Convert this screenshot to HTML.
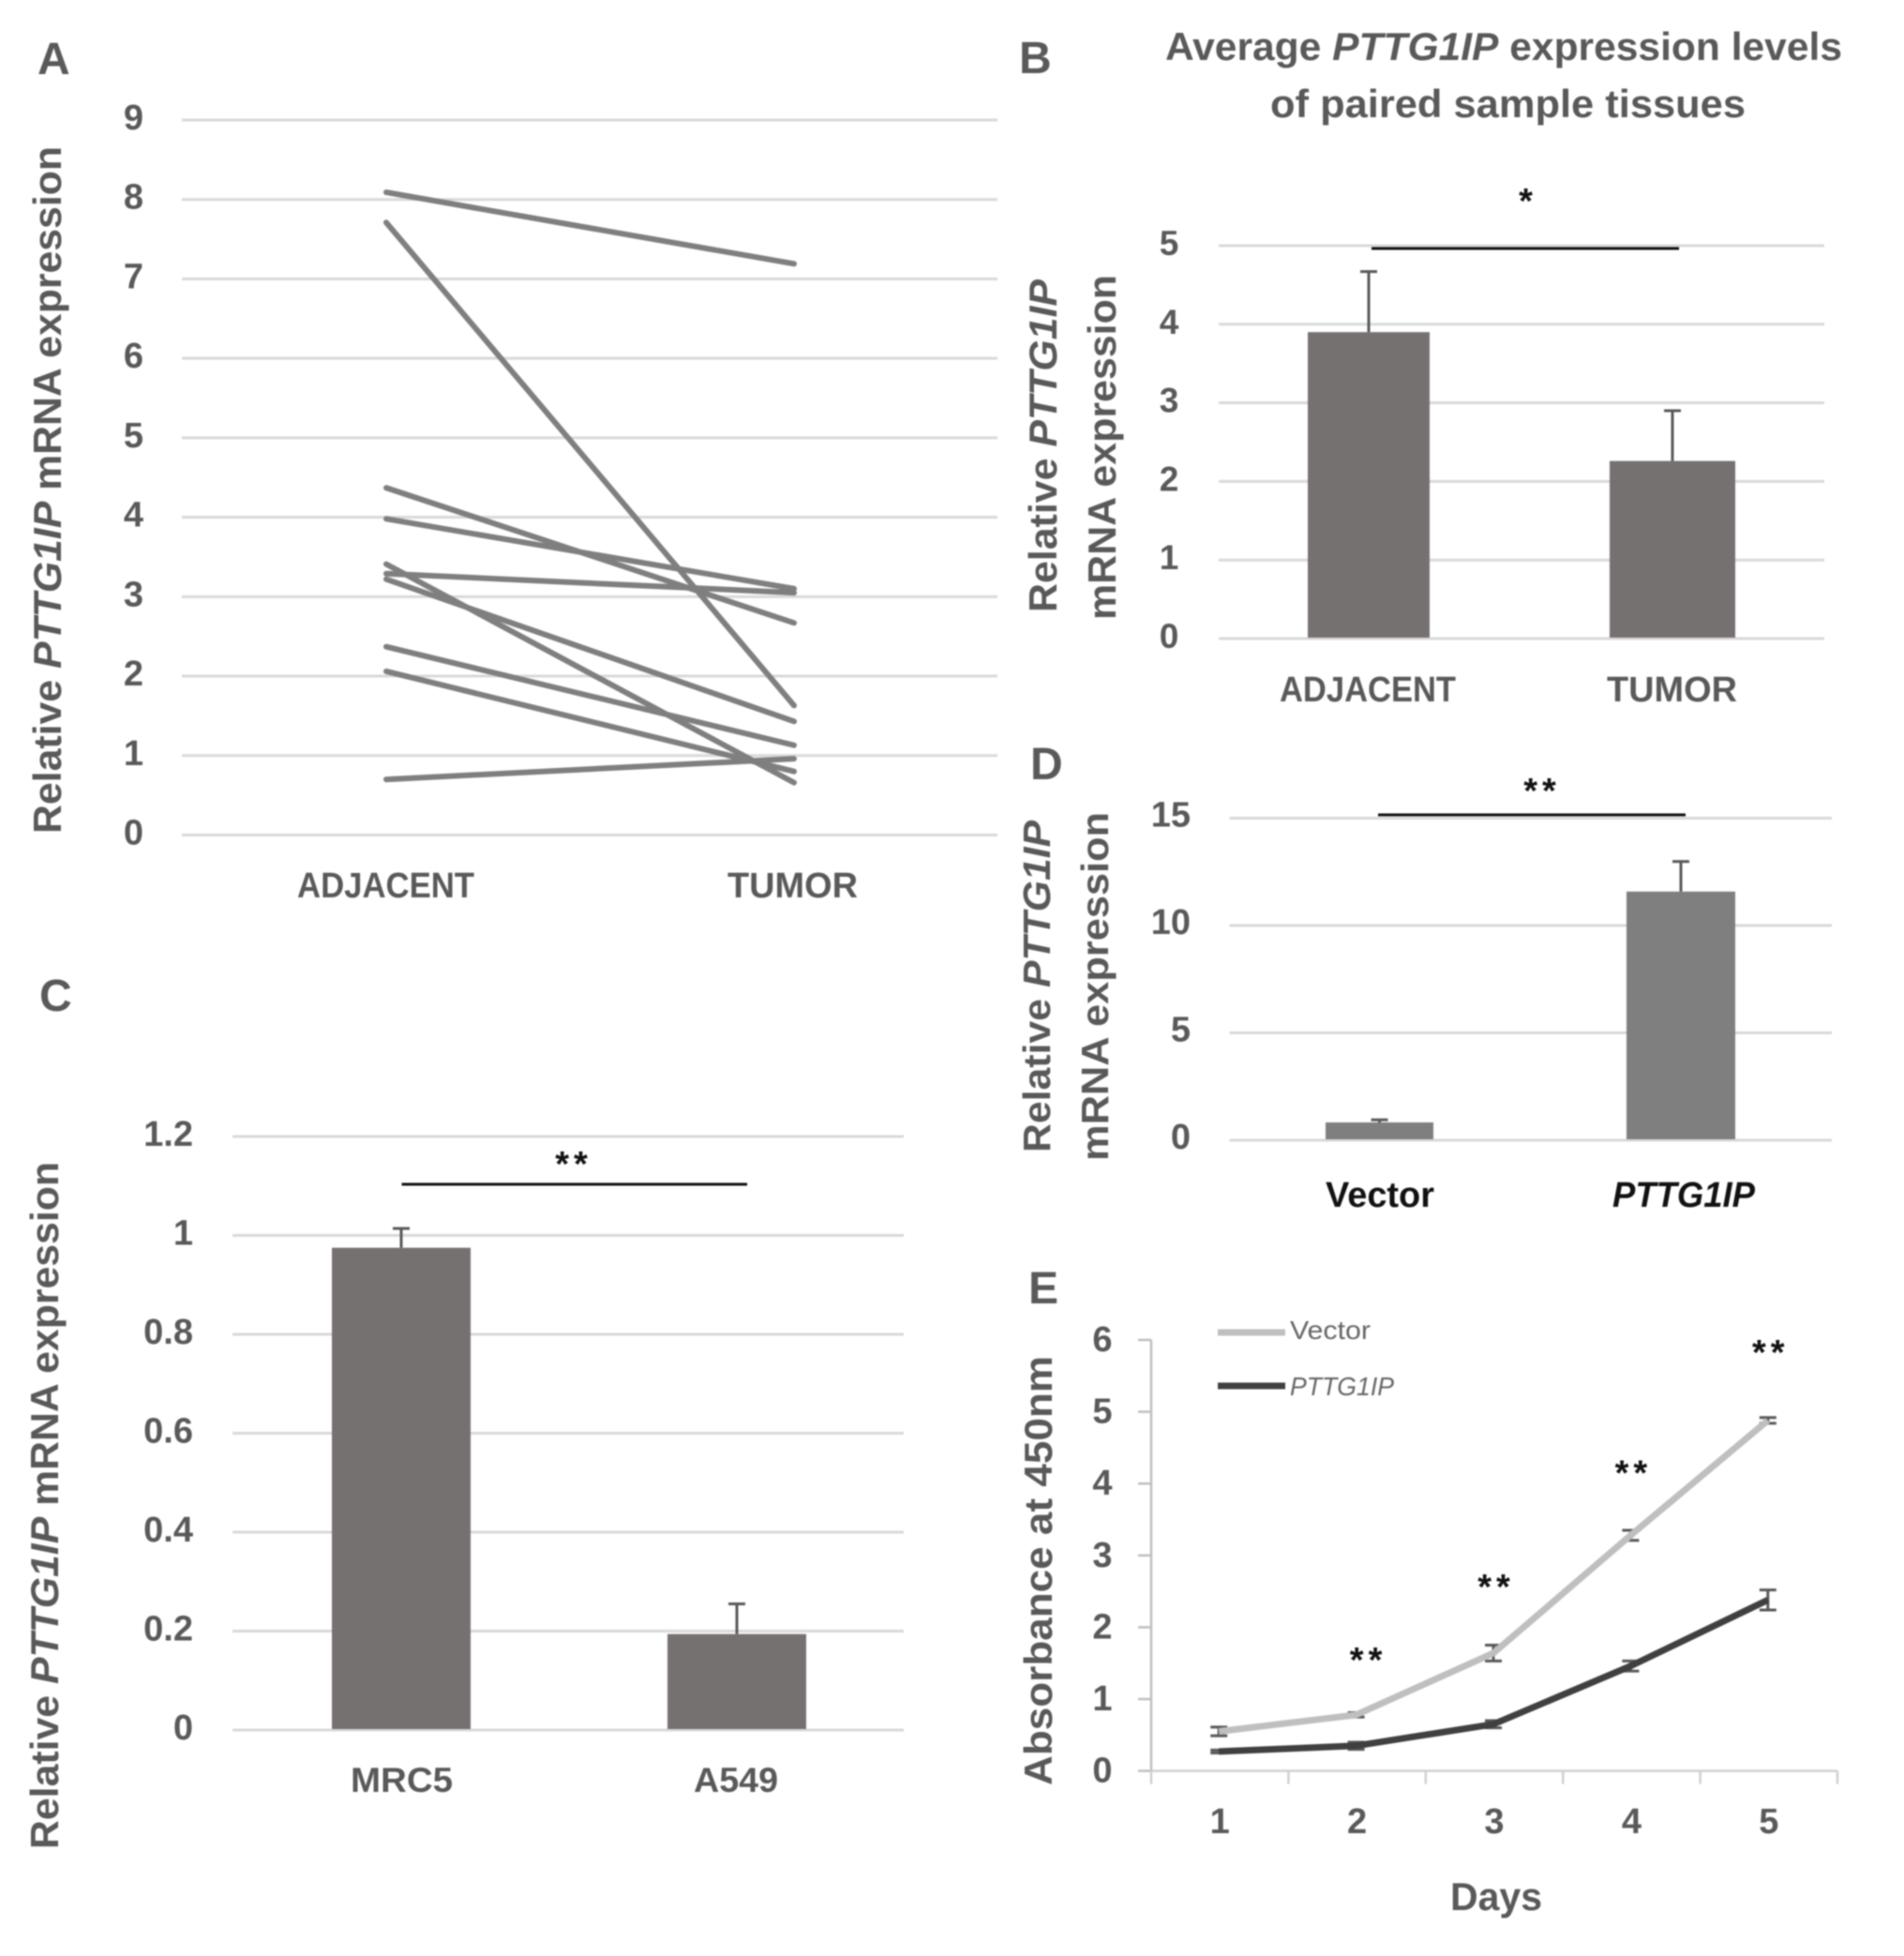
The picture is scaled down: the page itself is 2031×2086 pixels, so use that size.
<!DOCTYPE html>
<html lang="en">
<head>
<meta charset="utf-8">
<title>PTTG1IP expression figure</title>
<style>
html,body{margin:0;padding:0;background:#fff;}
body{width:2031px;height:2086px;overflow:hidden;}
svg{display:block;filter:blur(0.7px);}
text{font-family:"Liberation Sans",sans-serif;font-weight:bold;fill:#595959;}
.it{font-style:italic;}
</style>
</head>
<body>
<svg id="figure" xmlns="http://www.w3.org/2000/svg" width="2031" height="2086" viewBox="0 0 2031 2086">
  <rect x="0" y="0" width="2031" height="2086" fill="#ffffff"/>
  <g id="grids"></g>
  <g id="marks"></g>
  <g id="ticks"></g>

  <text x="40" y="79" font-size="48">A</text>
  <text x="1087" y="78" font-size="48">B</text>
  <text x="42" y="1078" font-size="48">C</text>
  <text x="1099" y="831" font-size="48">D</text>
  <text x="1097" y="1390" font-size="48">E</text>

  <text transform="translate(65,889) rotate(-90)" font-size="42" textLength="733" lengthAdjust="spacingAndGlyphs">Relative <tspan class="it">PTTG1IP</tspan> mRNA expression</text>
  <text x="317" y="957" font-size="38" textLength="189" lengthAdjust="spacingAndGlyphs">ADJACENT</text>
  <text x="776" y="957" font-size="38" textLength="139" lengthAdjust="spacingAndGlyphs">TUMOR</text>

  <text x="1243" y="64" font-size="42" textLength="722" lengthAdjust="spacingAndGlyphs">Average <tspan class="it">PTTG1IP</tspan> expression levels</text>
  <text x="1355" y="125" font-size="42" textLength="507" lengthAdjust="spacingAndGlyphs">of paired sample tissues</text>
  <text transform="translate(1127,653) rotate(-90)" font-size="42" textLength="355" lengthAdjust="spacingAndGlyphs">Relative <tspan class="it">PTTG1IP</tspan></text>
  <text transform="translate(1190,661) rotate(-90)" font-size="42" textLength="368" lengthAdjust="spacingAndGlyphs">mRNA expression</text>
  <text x="1372" y="748" font-size="38" textLength="188" lengthAdjust="spacingAndGlyphs" transform="translate(-7,0)">ADJACENT</text>
  <text x="1714" y="748" font-size="38" textLength="139" lengthAdjust="spacingAndGlyphs">TUMOR</text>

  <text transform="translate(62,1972) rotate(-90)" font-size="42" textLength="733" lengthAdjust="spacingAndGlyphs">Relative <tspan class="it">PTTG1IP</tspan> mRNA expression</text>
  <text x="374" y="1919" font-size="37" textLength="109" lengthAdjust="spacingAndGlyphs" transform="translate(0,-8)">MRC5</text>
  <text x="740" y="1911" font-size="37" textLength="90" lengthAdjust="spacingAndGlyphs">A549</text>

  <text transform="translate(1120,1229) rotate(-90)" font-size="41" textLength="354" lengthAdjust="spacingAndGlyphs">Relative <tspan class="it">PTTG1IP</tspan></text>
  <text transform="translate(1182,1238) rotate(-90)" font-size="41" textLength="372" lengthAdjust="spacingAndGlyphs">mRNA expression</text>
  <text x="1414" y="1287" font-size="38" textLength="116" lengthAdjust="spacingAndGlyphs" style="fill:#111">Vector</text>
  <text x="1720" y="1287" font-size="38" textLength="152" lengthAdjust="spacingAndGlyphs" style="fill:#111;font-style:italic">PTTG1IP</text>

  <text transform="translate(1122,1904) rotate(-90)" font-size="42" textLength="458" lengthAdjust="spacingAndGlyphs">Absorbance at 450nm</text>
  <text x="1547" y="2037" font-size="42" textLength="98" lengthAdjust="spacingAndGlyphs">Days</text>
  <line x1="1299" y1="1421" x2="1371" y2="1421" stroke="#bfbfbf" stroke-width="7"/>
  <text x="1376" y="1428" font-size="28" textLength="86" lengthAdjust="spacingAndGlyphs" style="font-weight:normal;fill:#666">Vector</text>
  <line x1="1299" y1="1478" x2="1371" y2="1478" stroke="#404040" stroke-width="7"/>
  <text x="1376" y="1488" font-size="28" textLength="111" lengthAdjust="spacingAndGlyphs" style="font-weight:normal;font-style:italic;fill:#666">PTTG1IP</text>
</svg>

<script>
// Panel A: paired tissues
const pairedAdjacent = [8.09, 7.71, 4.37, 3.98, 3.29, 3.41, 3.22, 2.37, 2.06, 0.70];
const pairedTumor    = [7.19, 1.63, 2.67, 3.10, 3.05, 0.66, 1.43, 1.13, 0.80, 0.96];
const aTicks = ["0","1","2","3","4","5","6","7","8","9"];

// Panel B: averages
const bCategories = ["ADJACENT","TUMOR"];
const bMeans = [3.90, 2.26];
const bErrors = [0.77, 0.64];
const bTicks = ["0","1","2","3","4","5"];

// Panel C: cell lines
const cCategories = ["MRC5","A549"];
const cMeans = [0.975, 0.194];
const cErrors = [0.039, 0.061];
const cTicks = ["0","0.2","0.4","0.6","0.8","1","1.2"];

// Panel D: transfection
const dCategories = ["Vector","PTTG1IP"];
const dMeans = [0.83, 11.58];
const dErrors = [0.12, 1.40];
const dTicks = ["0","5","10","15"];

// Panel E: absorbance time-course
const eDays = ["1","2","3","4","5"];
const eVector = [0.55, 0.78, 1.64, 3.28, 4.88];
const eVectorErr = [0.06, 0.03, 0.11, 0.07, 0.04];
const ePttg = [0.27, 0.35, 0.65, 1.46, 2.38];
const ePttgErr = [0.02, 0.05, 0.05, 0.07, 0.14];
const eTicks = ["0","1","2","3","4","5","6"];
const eStars = ["","**","**","**","**"];

const NS = "http://www.w3.org/2000/svg";
const grids = document.getElementById("grids");
const marks = document.getElementById("marks");
const ticks = document.getElementById("ticks");

function linear(d0, d1, r0, r1) {
  return function (v) { return r0 + (v - d0) * (r1 - r0) / (d1 - d0); };
}
function line(parent, x1, y1, x2, y2, stroke, width, cap) {
  const el = document.createElementNS(NS, "line");
  el.setAttribute("x1", x1);
  el.setAttribute("y1", y1);
  el.setAttribute("x2", x2);
  el.setAttribute("y2", y2);
  el.setAttribute("stroke", stroke);
  el.setAttribute("stroke-width", width);
  if (cap) el.setAttribute("stroke-linecap", cap);
  parent.appendChild(el);
  return el;
}
function label(x, y, str, size, anchor) {
  const el = document.createElementNS(NS, "text");
  el.setAttribute("x", x);
  el.setAttribute("y", y);
  el.setAttribute("font-size", size);
  el.setAttribute("text-anchor", anchor);
  el.textContent = str;
  ticks.appendChild(el);
  return el;
}
function stars(x, y, str) {
  const el = document.createElementNS(NS, "text");
  el.setAttribute("x", x);
  el.setAttribute("y", y);
  el.setAttribute("font-size", "38");
  el.setAttribute("text-anchor", "middle");
  el.setAttribute("letter-spacing", "5");
  el.setAttribute("style", "fill:#111");
  el.textContent = str;
  
  
  ticks.appendChild(el);
}
function sigBar(x1, x2, y) {
  const el = line(marks, x1, y, x2, y, "#111111", 3);
  
  
}
function yGrid(tickLabels, tickValue, y, x0, x1, labelX, anchor, offset, size) {
  tickLabels.forEach(function (t, i) {
    const v = tickValue(t, i);
    const g = line(grids, x0, y(v), x1, y(v), "#d9d9d9", 3);
    
    
    const l = label(labelX, y(v) + offset, t, size, anchor);
    
    
  });
}
function barChart(means, errors, xCentres, barWidth, y, color) {
  means.forEach(function (m, i) {
    const r = document.createElementNS(NS, "rect");
    r.setAttribute("x", xCentres[i] - barWidth[i] / 2);
    r.setAttribute("y", y(m));
    r.setAttribute("width", barWidth[i]);
    r.setAttribute("height", y(0) - y(m) - 1);
    r.setAttribute("fill", color);
    
    
    marks.appendChild(r);
    const stem = line(marks, xCentres[i], y(m), xCentres[i], y(m + errors[i]), "#595959", 3);
    
    
    const cap = line(marks, xCentres[i] - 9, y(m + errors[i]), xCentres[i] + 9, y(m + errors[i]), "#595959", 3);
    
    
  });
}

/* Panel A */
const yA = linear(0, 9, 890.5, 128);
const xA = linear(0, 1, 412, 847);
yGrid(aTicks, function (t) { return +t; }, yA, 194, 1064, 142.5, "middle", 10, 38);
pairedAdjacent.forEach(function (a, i) {
  const el = line(marks, xA(0), yA(a), xA(1), yA(pairedTumor[i]), "#7f7f7f", 6, "round");
  
  
});

/* Panel B */
const yB = linear(0, 5, 681, 262);
yGrid(bTicks, function (t) { return +t; }, yB, 1300, 1946, 1247, "middle", 10, 37);
barChart(bMeans, bErrors, [1460, 1784], [130, 134], yB, "#767171");
sigBar(1463, 1791, 265);
stars(1630, 227, "*");

/* Panel C */
const yC = linear(0, 1.2, 1845, 1212);
yGrid(cTicks, function (t) { return +t; }, yC, 248, 964, 206, "end", 10, 38);
barChart(cMeans, cErrors, [428, 786], [148, 148], yC, "#767171");
sigBar(428.5, 797, 1263);
stars(612, 1254, "**");

/* Panel D */
const yD = linear(0, 15, 1216, 872.5);
yGrid(dTicks, function (t) { return +t; }, yD, 1311.5, 1954, 1270, "end", 9, 38);
barChart(dMeans, dErrors, [1471.5, 1793], [115, 116], yD, "#7f7f7f");
sigBar(1470, 1798, 869);
stars(1645, 856, "**");

/* Panel E */
const yE = linear(0, 6, 1888.6, 1429);
const bandE = (1960 - 1228) / eDays.length;
const xE = function (i) { return 1228 + bandE * (i + 0.5); };
eTicks.forEach(function (t) {
  const v = +t;
  const tk = line(grids, 1214, yE(v), 1228, yE(v), "#bfbfbf", 2.5);
  
  
  const l = label(1176, yE(v) + 12, t, 38, "middle");
  
  
});
const axisY = line(grids, 1228, yE(6), 1228, yE(0), "#bfbfbf", 2.5);


const axisX = line(grids, 1228, yE(0), 1960, yE(0), "#d0d0d0", 2.5);


for (let i = 0; i <= eDays.length; i++) {
  const tk = line(grids, 1228 + bandE * i, yE(0), 1228 + bandE * i, yE(0) + 14, "#d0d0d0", 2.5);
  
  
}
eDays.forEach(function (d, i) {
  const l = label(xE(i), 1955, d, 38, "middle");
  
  
});
function series(values, errs, color, name) {
  values.forEach(function (v, i) {
    const x = xE(i) - 1;
    const s = line(marks, x, yE(v - errs[i]), x, yE(v + errs[i]), "#595959", 3);
    
    
    const c1 = line(marks, x - 9, yE(v + errs[i]), x + 9, yE(v + errs[i]), "#595959", 3);
    
    
    const c2 = line(marks, x - 9, yE(v - errs[i]), x + 9, yE(v - errs[i]), "#595959", 3);
    
    
  });
  const p = document.createElementNS(NS, "polyline");
  p.setAttribute("points", values.map(function (v, i) { return (xE(i) - 1) + "," + yE(v); }).join(" "));
  p.setAttribute("fill", "none");
  p.setAttribute("stroke", color);
  p.setAttribute("stroke-width", "7");
  p.setAttribute("stroke-linejoin", "round");
  
  
  marks.appendChild(p);
}
series(eVector, eVectorErr, "#bfbfbf", "vector-line");
series(ePttg, ePttgErr, "#404040", "pttg1ip-line");
eStars.forEach(function (s, i) {
  if (s) stars(xE(i) + (i === 1 ? 12 : 2), yE(eVector[i]) - [0, 46, 58, 54, 60][i], s);
});
</script>
</body>
</html>
